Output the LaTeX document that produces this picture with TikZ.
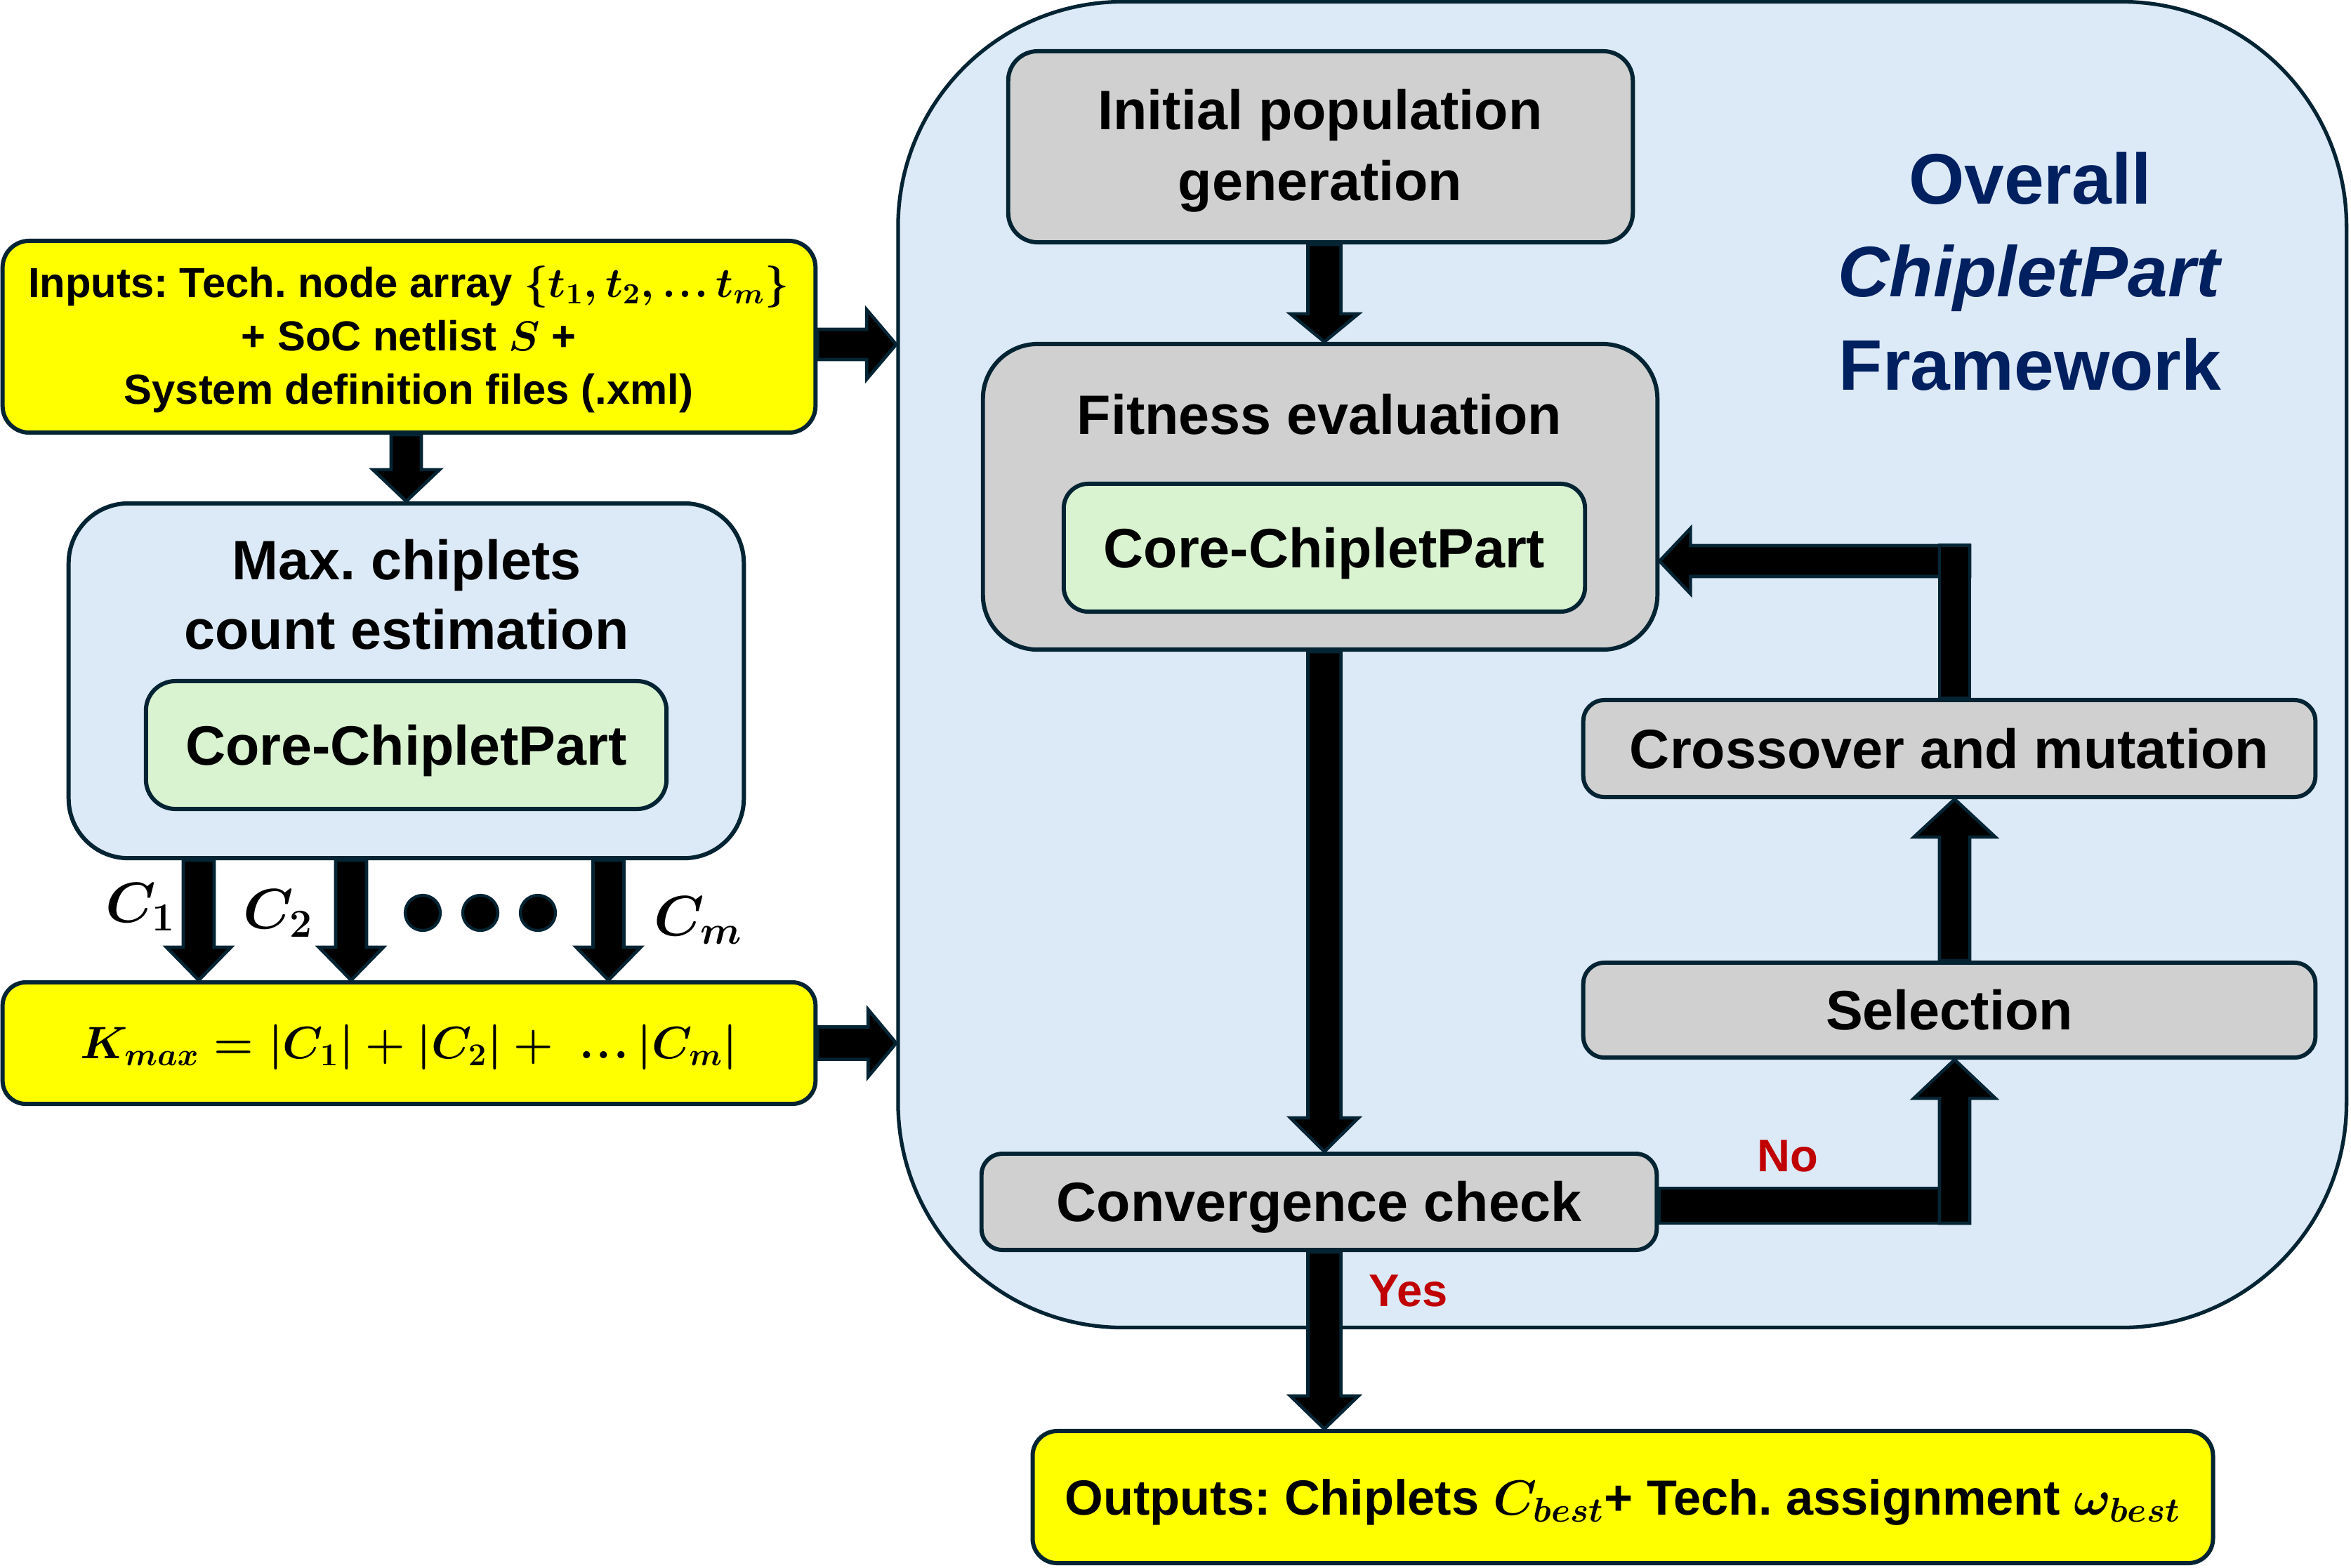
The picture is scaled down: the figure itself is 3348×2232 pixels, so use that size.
\RequirePackage{fix-cm}
\documentclass[tikz,border=0pt]{standalone}
\usepackage[no-math]{fontspec}
\setmainfont{Liberation Sans}
\usetikzlibrary{calc}
\definecolor{navy}{HTML}{042433}
\definecolor{ltblue}{HTML}{DCE9F6}
\definecolor{gry}{HTML}{D0D0D0}
\definecolor{ltgreen}{HTML}{D9F2D0}
\definecolor{ttl}{HTML}{002060}
\definecolor{redc}{HTML}{C00000}
\definecolor{yel}{HTML}{FFFF00}
\setlength\tabcolsep{0pt}
\frenchspacing
\newcommand\bmath[1]{{\boldmath$#1$}}
\newcommand\tdots{\mathinner{\ldotp\mkern-2mu\ldotp\mkern-2mu\ldotp}}
\newcommand\blkarrow[5]{%
  \draw[blk] let \p1=#1, \p2=#2, \n1={atan2(\y2-\y1,\x2-\x1)}, \n2={veclen(\x2-\x1,\y2-\y1)} in
   [shift={(\p1)}, rotate=\n1]
   (0pt,#3) -- (\n2-#5,#3) -- (\n2-#5,#4) -- (\n2,0pt) -- (\n2-#5,-#4) -- (\n2-#5,-#3) -- (0pt,-#3) -- cycle;}
\tikzset{
  box/.style={draw=navy, line width=1.7pt, inner sep=0pt, rectangle},
  blk/.style={fill=black, draw=navy, line width=1.3pt, line join=miter},
  mainfont/.style={font=\bfseries\fontsize{22.5pt}{28.45pt}\selectfont},
  ctr/.style={text height=16.1pt, text depth=0pt},
  dot/.style={circle, fill=black, draw=navy, line width=1.2pt, minimum size=0.5cm, inner sep=0pt},
  lbl/.style={font=\fontsize{23pt}{28pt}\selectfont, inner sep=0pt, anchor=base west},
}
\begin{document}
\begin{tikzpicture}[x=0.01cm,y=-0.01cm]
\useasboundingbox (0,0) rectangle (3348,2232);
% outer framework box
\node[box, line width=1.5pt, fill=ltblue, minimum width=20.615cm, minimum height=18.87cm, rounded corners=3.2cm] (outer) at (2310.25,946.5) {};
% title
\node[inner sep=0pt, anchor=base, text=ttl, font=\bfseries\fontsize{29pt}{37.6pt}\selectfont] (title) at (2891,555)
  {\begin{tabular}[b]{c}Overall\\\textit{ChipletPart}\\Framework\end{tabular}};
% left column
\node[box, fill=yel, minimum width=11.57cm, minimum height=2.73cm, rounded corners=0.38cm] (inputs) at (582.5,479.5) {};
\node[inner sep=0pt, anchor=base, font=\bfseries\fontsize{17pt}{21.6pt}\selectfont] (inputstxt) at (582,575)
  {\begin{tabular}[b]{c}Inputs: Tech. node array \bmath{\{t_1,t_2,\tdots t_m\}}\\+ SoC netlist \bmath{S} +\\System definition files (.xml)\end{tabular}};
\node[box, fill=ltblue, minimum width=9.61cm, minimum height=5.05cm, rounded corners=0.85cm] (maxb) at (578.5,969.5) {};
\node[inner sep=0pt, anchor=base, font=\bfseries\fontsize{22.5pt}{28.3pt}\selectfont] (maxtxt) at (579,924.5)
  {\begin{tabular}[b]{c}Max. chiplets\\count estimation\end{tabular}};
\node[box, mainfont, ctr, fill=ltgreen, minimum width=7.41cm, minimum height=1.82cm, rounded corners=0.42cm] (mcore) at (578.5,1061) {Core-ChipletPart};
\node[box, fill=yel, minimum width=11.57cm, minimum height=1.73cm, rounded corners=0.33cm, text height=12.6pt, text depth=0pt, font=\fontsize{18.4pt}{23pt}\selectfont] (kmax) at (582.5,1485.5)
  {\bmath{K_{max}=\vert C_1\vert+\vert C_2\vert+\mskip\thickmuskip\tdots\vert C_m\vert}};
% right column
\node[box, fill=gry, minimum width=8.89cm, minimum height=2.72cm, rounded corners=0.42cm] (init) at (1880.5,209) {};
\node[inner sep=0pt, anchor=base, mainfont] (inittxt) at (1880,285)
  {\begin{tabular}[b]{c}Initial population\\generation\end{tabular}};
\node[box, fill=gry, minimum width=9.6cm, minimum height=4.35cm, rounded corners=0.78cm] (fit) at (1880,707.5) {};
\node[inner sep=0pt, anchor=base, mainfont] (fittxt) at (1879,618) {Fitness evaluation};
\node[box, mainfont, ctr, fill=ltgreen, minimum width=7.42cm, minimum height=1.82cm, rounded corners=0.35cm] (fcore) at (1886,780) {Core-ChipletPart};
\node[box, mainfont, ctr, fill=gry, minimum width=10.42cm, minimum height=1.38cm, rounded corners=0.3cm] (cross) at (2776,1066) {Crossover and mutation};
\node[box, mainfont, ctr, fill=gry, minimum width=10.42cm, minimum height=1.35cm, rounded corners=0.3cm] (sel) at (2776,1438.5) {Selection};
\node[box, mainfont, ctr, fill=gry, minimum width=9.61cm, minimum height=1.37cm, rounded corners=0.3cm] (conv) at (1878.5,1711.5) {Convergence check};
\node[box, fill=yel, minimum width=16.8cm, minimum height=1.88cm, rounded corners=0.35cm, text height=14.3pt, text depth=0pt, font=\bfseries\fontsize{20pt}{24pt}\selectfont] (outp) at (2311,2132)
  {Outputs: Chiplets \bmath{C_{best}}+ Tech. assignment \bmath{\omega_{best}}};
% helper coordinates
\coordinate (ax) at (1886,0);
\coordinate (lx) at (2783.5,0);
\coordinate (ia) at (0,490.5);
\coordinate (c1x) at (283,0);
\coordinate (c2x) at (500,0);
\coordinate (cmx) at (866.5,0);
\coordinate (nob) at (2783.5,1717);
\coordinate (lt) at (2805,799);
% arrows
\blkarrow{(inputs.south -| maxb.north)}{(maxb.north)}{0.215cm}{0.475cm}{0.45cm}
\blkarrow{(inputs.east |- ia)}{(outer.west |- ia)}{0.215cm}{0.495cm}{0.42cm}
\blkarrow{(kmax.east)}{(outer.west |- kmax.east)}{0.23cm}{0.48cm}{0.40cm}
\blkarrow{(maxb.south -| c1x)}{(kmax.north -| c1x)}{0.22cm}{0.46cm}{0.47cm}
\blkarrow{(maxb.south -| c2x)}{(kmax.north -| c2x)}{0.22cm}{0.46cm}{0.47cm}
\blkarrow{(maxb.south -| cmx)}{(kmax.north -| cmx)}{0.22cm}{0.46cm}{0.47cm}
\blkarrow{(init.south -| ax)}{(fit.north -| ax)}{0.235cm}{0.485cm}{0.40cm}
\blkarrow{(fit.south -| ax)}{(conv.north -| ax)}{0.235cm}{0.485cm}{0.48cm}
\blkarrow{(conv.south -| ax)}{(outp.north -| ax)}{0.235cm}{0.485cm}{0.47cm}
\blkarrow{(sel.north -| lx)}{(cross.south -| lx)}{0.215cm}{0.58cm}{0.54cm}
% No branch
\draw[blk] ($(conv.east |- nob)+(0,-25)$) rectangle ($(nob)+(21.5,25)$);
\blkarrow{($(nob)+(0,25)$)}{(sel.south -| nob)}{0.215cm}{0.58cm}{0.55cm}
% loop back to fitness
\blkarrow{(lt)}{(fit.east |- lt)}{0.22cm}{0.465cm}{0.44cm}
\draw[blk] ($(cross.north -| lx)+(-21.5,0)$) rectangle ($(lx |- lt)+(21.5,-22.5)$);
% dots and labels
\node[dot] (d1) at (602,1300) {};
\node[dot] (d2) at (684,1300) {};
\node[dot] (d3) at (766,1300) {};
\node[lbl] (c1) at (150,1313) {\bmath{C_1}};
\node[lbl] (c2) at (346,1322) {\bmath{C_2}};
\node[lbl] (cm) at (931,1332) {\bmath{C_m}};
\node[inner sep=0pt, anchor=base west, text=redc, font=\bfseries\fontsize{18.5pt}{22pt}\selectfont] (no) at (2502,1668) {No};
\node[inner sep=0pt, anchor=base west, text=redc, font=\bfseries\fontsize{18.5pt}{22pt}\selectfont] (yes) at (1949,1860) {Yes};
\end{tikzpicture}
\end{document}
